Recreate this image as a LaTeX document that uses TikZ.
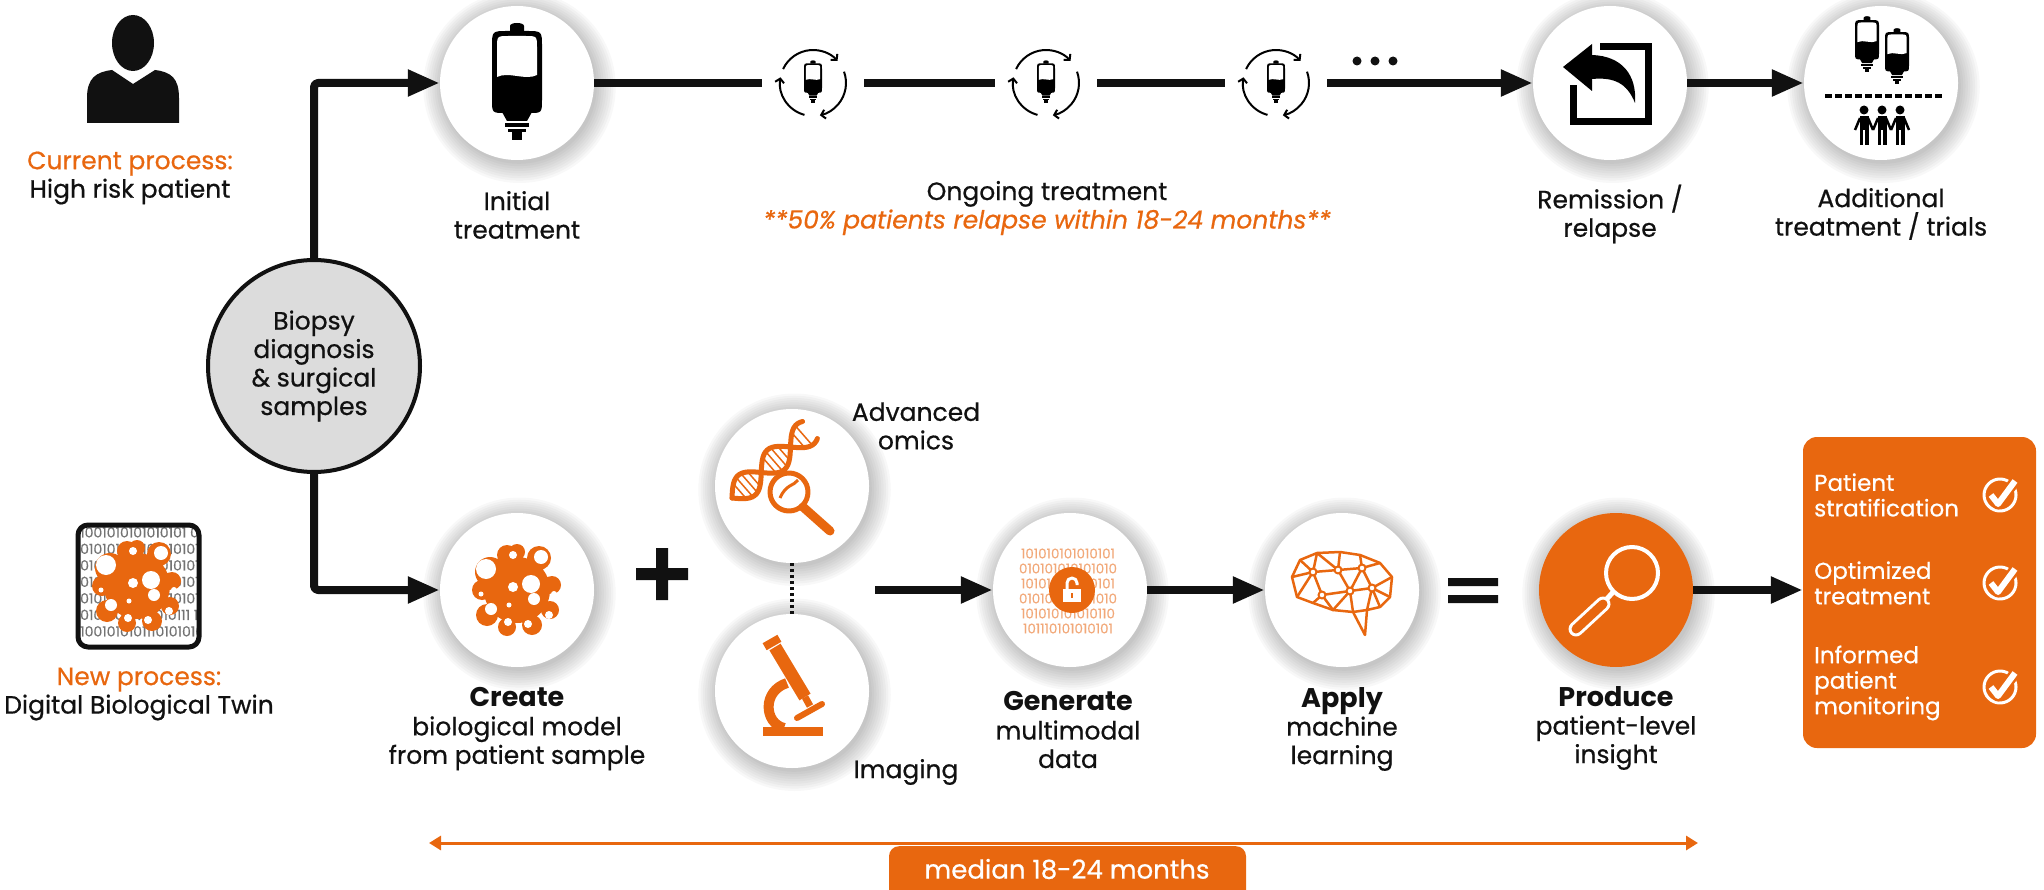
\documentclass[tikz,border=0pt]{standalone}
\usepackage{fontspec}
\setmainfont{Poppins}[UprightFeatures={FakeBold=0.6}, ItalicFeatures={FakeBold=0.6}]
\usetikzlibrary{arrows.meta,shadows}

\definecolor{twinorange}{HTML}{E8670F}
\definecolor{binorange}{HTML}{F2A878}
\definecolor{samplegray}{HTML}{DCDCDC}
\definecolor{ink}{HTML}{111111}

\newcommand\lblfont{\fontsize{25}{28.5}\selectfont}
\newcommand\headfont{\fontsize{27}{28.5}\selectfont\bfseries}
\newcommand\boxfont{\fontsize{23}{25.5}\selectfont}
\newcommand\binfont{\fontsize{13.5}{15}\selectfont}
\newcommand\twinfont{\fontsize{14}{16.5}\selectfont}

\tikzset{
  haloring/.style={general shadow={shadow scale=#1, shadow xshift=2pt, shadow yshift=-3pt,
    fill=black, opacity=0.028}},
  halo/.style={haloring=1.01, haloring=1.04, haloring=1.07, haloring=1.1, haloring=1.13,
    haloring=1.16, haloring=1.19, haloring=1.22, haloring=1.25},
  stage/.style={circle, fill=white, minimum size=154pt, inner sep=0pt, halo},
  gap/.style={circle, minimum size=102pt, inner sep=0pt},
  link/.style={ink, line width=8pt},
  flow/.style={link, -{Triangle[length=32pt,width=25pt]}},
  caption/.style={align=center, font=\lblfont, text=ink, inner sep=0pt},
  % infusion bag, about 118 high
  ivbag/.pic={
    \fill (-7,-51) -- (-7,-57) .. controls (-7,-61) and (7,-61) .. (7,-57) -- (7,-51) -- cycle;
    \fill (-25,-36) -- (-25,16) .. controls (-25,30) .. (-12,30) -- (12,30) .. controls (25,30) .. (25,16)
      -- (25,-36) .. controls (25,-52) .. (9,-52) -- (-9,-52) .. controls (-25,-52) .. (-25,-36) -- cycle;
    \fill[white] (-20,-35) -- (-20,-6) .. controls (-8,-12) and (8,-2) .. (20,-8) -- (20,-35)
      .. controls (20,-47) .. (8,-47) -- (-8,-47) .. controls (-20,-47) .. (-20,-35) -- cycle;
    \fill (-15,29) -- (15,29) -- (10,38) -- (-10,38) -- cycle;
    \fill (-12,40) rectangle (12,44);
    \fill (-9,46) rectangle (9,49);
    \fill (-5,49) rectangle (5,57);
  },
  % small bag with round arrows
  refill/.pic={
    \pic[scale=0.36] at (0,-1) {ivbag};
    \begin{scope}[line width=2pt, -{Straight Barb[length=4pt,width=9pt]}]
      \draw (205:33) arc[start angle=205, end angle=318, radius=33];
      \draw (340:33) arc[start angle=340, end angle=438, radius=33];
      \draw (105:33) arc[start angle=105, end angle=190, radius=33];
    \end{scope}
  },
  % box with curved arrow
  relapse/.pic={
    \draw[line width=7pt, line join=miter] (-10,-36) -- (38,-36) -- (38,39) -- (-37,39) -- (-37,2);
    \fill (-47,-16) -- (-18,-39) -- (-18,-28) .. controls (12,-27) and (27,-8) .. (25,20)
      .. controls (17,0) and (4,-6) .. (-18,-4) -- (-18,8) -- cycle;
  },
  % two bags over three people
  trials/.pic={
    \pic[scale=0.48] at (-14,-38) {ivbag};
    \pic[scale=0.48] at (16,-26) {ivbag};
    \draw[line width=3.5pt, dash pattern=on 7pt off 3pt] (-56,13) -- (61,13);
    \foreach \px in {-17,1,19} {
      \fill (\px,27) circle[radius=4.5];
      \fill (\px-4.5,33) rectangle (\px+4.5,47);
      \fill (\px-4.5,46) rectangle (\px-0.8,62);
      \fill (\px+0.8,46) rectangle (\px+4.5,62);
      \draw[line width=2.5pt] (\px-4,35) -- (\px-9,47) (\px+4,35) -- (\px+9,47);
    }
  },
  % cell cluster with holes
  tumor/.pic={
    \fill[twinorange] (0,0) circle[radius=33] (-27,-18) circle[radius=15] (-10,-35) circle[radius=10]
      (22,-32) circle[radius=12] (0,-38) circle[radius=8] (35,-5) circle[radius=9] (33,20) circle[radius=9]
      (15,35) circle[radius=10] (-10,37) circle[radius=9] (-30,25) circle[radius=11] (-35,0) circle[radius=10];
    \fill[white] (-31,-21) circle[radius=10] (14,-6) circle[radius=9] (24,-33) circle[radius=7]
      (-4,-3) circle[radius=5] (-4,-35) circle[radius=4] (17,9) circle[radius=6] (-26,19) circle[radius=6]
      (-9,32) circle[radius=4] (11,34) circle[radius=4] (32,25) circle[radius=4] (-8,15) circle[radius=2.5]
      (-36,4) circle[radius=2.5] (37,4) circle[radius=3];
  },
  % circled check mark
  tick/.pic={
    \draw[white, line width=3pt] (0,0) circle[radius=16];
    \draw[twinorange, line width=11pt] (-9,0) -- (-2,9) -- (15,-14);
    \draw[white, line width=6pt] (-9,0) -- (-2,9) -- (15,-14);
  },
}

\begin{document}
\begin{tikzpicture}[x=1pt, y=-1pt, line join=round]
\useasboundingbox (0,0) rectangle (2044,890);

% current process
\fill[ink] (133,43) ellipse[x radius=21, y radius=28];
\fill[ink] (87,123) -- (87,98) .. controls (87,78) and (96,72) .. (112,70) -- (133,84) -- (155,70)
  .. controls (171,72) and (179,78) .. (179,98) -- (179,123) -- cycle;
\node[caption] (curlabel) at (130,178) {{\color{twinorange}Current process:}\\High risk patient};

\node[circle, draw=ink, line width=4pt, fill=samplegray, minimum size=212pt, caption] (bio) at (314,366)
  {Biopsy\\diagnosis\\\&~surgical\\samples};

% top row
\node[stage] (init) at (517,83) {};
\pic at (init) {ivbag};
\node[caption] (initlabel) at (517,215) {Initial\\treatment};

\foreach \n/\cx in {1/813, 2/1046, 3/1276} {
  \node[gap] (cyc\n) at (\cx,83) {};
  \pic at (cyc\n) {refill};
}
\fill[ink] (1357,61) circle[radius=4.5] (1375,61) circle[radius=4.5] (1393,61) circle[radius=4.5];
\node[caption] (ongoinglabel) at (1047,208)
  {Ongoing treatment\\{\itshape\color{twinorange}**50\% patients relapse within 18-24 months**}};

\node[stage] (remission) at (1610,83) {};
\pic at (remission) {relapse};
\node[caption] (remlabel) at (1610,214) {Remission /\\relapse};

\node[stage] (additional) at (1881,83) {};
\pic at (additional) {trials};
\node[caption] (addlabel) at (1881,214) {Additional\\treatment / trials};

\draw[link] (init) -- (cyc1) (cyc1) -- (cyc2) (cyc2) -- (cyc3);
\draw[flow] (cyc3) -- (remission);
\draw[flow] (remission) -- (additional);
\draw[flow, rounded corners=4pt] (bio.north) |- (init);

% new process
\begin{scope}
  \clip[rounded corners=10pt] (78,525) rectangle (199,647);
  \node[font=\twinfont, text=black!55, align=left, anchor=north west, inner sep=0pt] (twinbits) at (80,527)
    {1001010101010101 00\\0101010101010101010\\0101010101010101010\\0101010101010101010\\
     0101010101010101010\\010 0010101010111 1\\1001010101110101010};
\end{scope}
\pic at (137,586) {tumor};
\draw[ink, line width=5pt, rounded corners=10pt] (78,525) rectangle (199,647);
\node[caption] (newlabel) at (139,694) {{\color{twinorange}New process:}\\Digital Biological Twin};

% bottom row
\node[stage] (create) at (517,590) {};
\pic at (create) {tumor};
\node[caption] (createlabel) at (517,729) {{\headfont Create}\\biological model\\from patient sample};
\draw[flow, rounded corners=4pt] (bio.south) |- (create);

\fill[ink] (636,568) rectangle (688,580) (656,548) rectangle (668,600);

\node[stage] (omics) at (792,486) {};
\node[stage] (imaging) at (792,691) {};
\draw[ink, line width=4pt, dash pattern=on 3pt off 3pt] (omics) -- (imaging);
\node[caption] (omicslabel) at (916,426) {Advanced\\omics};
\node[caption] (imaginglabel) at (906,772) {Imaging};

% dna under the lens
\begin{scope}[shift={(omics.center)}, twinorange]
  \draw[line width=5pt, line cap=round] plot[domain=0:1, samples=40, smooth]
    ({-60+78*\x+13*sin(480*\x)*0.66}, {12-68*\x+13*sin(480*\x)*0.757});
  \draw[line width=5pt, line cap=round] plot[domain=0:1, samples=40, smooth]
    ({-60+78*\x-13*sin(480*\x)*0.66}, {12-68*\x-13*sin(480*\x)*0.757});
  \foreach \t in {0.1,0.16,0.22,0.28,0.48,0.54,0.6,0.66,0.85,0.92}
    \draw[line width=1.5pt] ({-60+78*\t+12*sin(480*\t)*0.66}, {12-68*\t+12*sin(480*\t)*0.757})
      -- ({-60+78*\t-12*sin(480*\t)*0.66}, {12-68*\t-12*sin(480*\t)*0.757});
  \draw[line width=5pt, fill=white] (-3,6) circle[radius=19];
  \draw[line width=3pt] (-12,12) .. controls (-6,-2) and (2,0) .. (6,-6);
  \draw[line width=9pt, line cap=round] (11,21) -- (38,45);
\end{scope}

% microscope
\begin{scope}[shift={(imaging.center)}, twinorange]
  \fill (-29,36) rectangle (31,45);
  \draw[line width=10pt] (-5,-8) .. controls (-30,0) and (-28,32) .. (-8,37);
  \draw[line width=13pt] (-17,-44) -- (13,6);
  \draw[line width=17pt] (-22,-52) -- (-18,-45);
  \draw[line width=7pt] (13,6) -- (18,15);
  \draw[line width=6pt, line cap=round] (5,27) -- (30,13);
\end{scope}

\coordinate (merge) at (875,590);
\node[stage] (generate) at (1070,590) {};
\node[font=\binfont, text=binorange, align=center, inner sep=0pt] (genbits) at (1068,591)
  {101010101010101\\010101010101010\\101010101010101\\010101010101010\\101010101010110\\101110101010101};
\begin{scope}[shift={(1072,590)}]
  \fill[twinorange] (0,0) circle[radius=23];
  \draw[white, line width=3pt] (-5,0) -- (-5,-7) arc[start angle=180, end angle=360, radius=5] -- (5,-5);
  \fill[white] (-9,-1) rectangle (9,12);
  \fill[twinorange] (-1.2,3) rectangle (1.2,8);
\end{scope}
\node[caption] (genlabel) at (1068,730) {{\headfont Generate}\\multimodal\\data};
\draw[flow] (merge) -- (generate);

\node[stage] (apply) at (1342,590) {};
\begin{scope}[shift={(apply.center)}, twinorange, line width=2.5pt]
  \draw (-50,-13) -- (-42,-30) -- (-25,-37) -- (-2,-38) -- (18,-35) -- (38,-27) -- (50,-13) -- (48,7)
    -- (38,17) -- (25,20) -- (23,45) -- (11,22) -- (-9,20) -- (-29,13) -- (-45,7) -- cycle;
  \draw (-50,-13) -- (-29,-18) -- (-42,-30) (-25,-37) -- (-29,-18) -- (-4,-20) -- (-25,-37)
    (-2,-38) -- (-4,-20) -- (20,-22) -- (18,-35) (20,-22) -- (38,-27) (20,-22) -- (30,-2) -- (50,-13)
    (30,-2) -- (48,7) (30,-2) -- (38,17) (30,-2) -- (25,20) (30,-2) -- (8,1) -- (20,-22)
    (8,1) -- (-4,-20) (-20,5) -- (-29,-18) -- (-45,7) (-20,5) -- (-29,13) (-20,5) -- (-9,20) -- (8,1)
    -- (11,22) -- (25,20) (-20,5) -- (8,1);
  \foreach \px/\py in {-29/-18, -4/-20, 20/-22, -20/5, 8/1, 30/-2}
    \filldraw[fill=white, line width=2pt] (\px,\py) circle[radius=3.5];
\end{scope}
\node[caption] (applylabel) at (1342,729) {{\headfont Apply}\\machine\\learning};
\draw[flow] (generate) -- (apply);

\fill[ink] (1448,578) rectangle (1498,586) (1448,595) rectangle (1498,603);

\node[stage, fill=twinorange] (produce) at (1616,590) {};
\begin{scope}[shift={(produce.center)}, white]
  \draw[line width=4pt] (16,-17) circle[radius=26];
  \draw[line width=5pt] (-2,1) -- (-11,11);
  \draw[line width=15pt, line cap=round] (-13,14) -- (-40,39);
  \draw[twinorange, line width=9pt, line cap=round] (-13,14) -- (-40,39);
\end{scope}
\node[caption] (prodlabel) at (1616,728) {{\headfont Produce}\\patient-level\\insight};

% outcomes
\node[fill=twinorange, rounded corners=14pt, minimum width=233pt, minimum height=311pt, inner sep=0pt]
  (outcome) at (1919.5,592.5) {};
\draw[flow] (produce) -- (outcome.west |- produce);
\node[anchor=west, align=left, font=\boxfont, text=white, inner sep=0pt] (strat) at (1814,495)
  {Patient\\stratification};
\node[anchor=west, align=left, font=\boxfont, text=white, inner sep=0pt] (optim) at (1814,583)
  {Optimized\\treatment};
\node[anchor=west, align=left, font=\boxfont, text=white, inner sep=0pt] (monit) at (1814,683)
  {Informed\\patient\\monitoring};
\foreach \cy in {495,583,687}
  \pic at (2000,\cy) {tick};

% time span
\coordinate (tlstart) at (429,843);
\coordinate (tlend) at (1698,843);
\draw[twinorange, line width=3pt, {Triangle[length=12pt,width=14pt]}-{Triangle[length=12pt,width=14pt]}]
  (tlstart) -- (tlend);
\node[fill=twinorange, rounded corners=10pt, minimum width=357pt, minimum height=70pt, anchor=north]
  (spanbox) at (1067.5,846) {};
\node[font=\fontsize{26}{28}\selectfont, text=white, inner sep=0pt] (spantext) at (1067,869) {median 18-24 months};
\end{tikzpicture}
\end{document}
